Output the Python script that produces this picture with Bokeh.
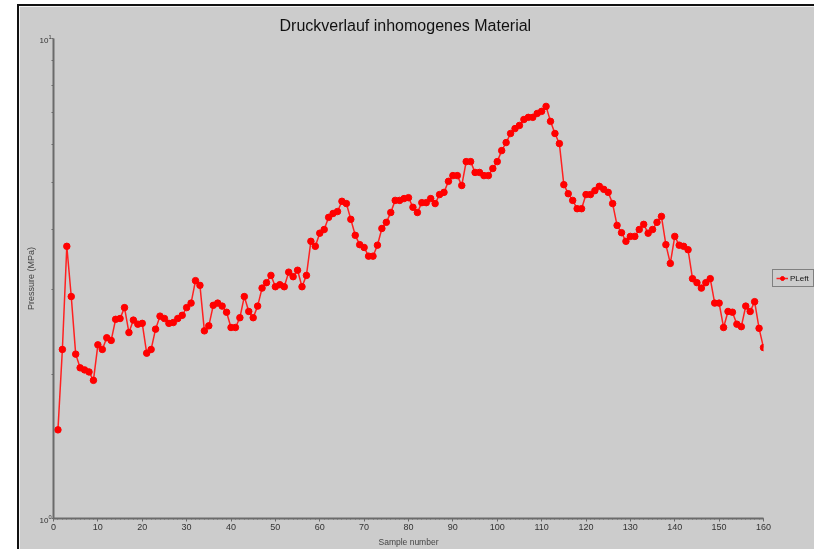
from bokeh.plotting import figure
from bokeh.models import (ColumnDataSource, Legend, LegendItem, SingleIntervalTicker,
                          FixedTicker, LogTickFormatter)
from bokeh.embed import file_html
from bokeh.resources import INLINE

# Pressure curve of an inhomogeneous material, one reading per sample
samples = list(range(1, 161))
pressure = [
    1.53, 2.25, 3.69, 2.90, 2.20, 2.06, 2.04, 2.02, 1.94, 2.30,
    2.25, 2.38, 2.35, 2.60, 2.61, 2.75, 2.44, 2.59, 2.54, 2.55,
    2.21, 2.25, 2.48, 2.64, 2.61, 2.55, 2.56, 2.61, 2.65, 2.75,
    2.81, 3.13, 3.06, 2.46, 2.52, 2.78, 2.81, 2.77, 2.69, 2.50,
    2.50, 2.62, 2.90, 2.70, 2.62, 2.77, 3.02, 3.10, 3.21, 3.04,
    3.07, 3.04, 3.26, 3.19, 3.29, 3.04, 3.21, 3.78, 3.69, 3.93,
    4.00, 4.24, 4.32, 4.36, 4.58, 4.53, 4.20, 3.89, 3.72, 3.67,
    3.52, 3.52, 3.71, 4.02, 4.14, 4.34, 4.60, 4.60, 4.64, 4.66,
    4.45, 4.34, 4.55, 4.55, 4.64, 4.53, 4.73, 4.78, 5.04, 5.18,
    5.18, 4.94, 5.54, 5.54, 5.26, 5.26, 5.18, 5.18, 5.36, 5.54,
    5.84, 6.07, 6.34, 6.49, 6.59, 6.78, 6.85, 6.85, 6.98, 7.05,
    7.22, 6.72, 6.34, 6.04, 4.96, 4.75, 4.60, 4.42, 4.42, 4.73,
    4.73, 4.82, 4.92, 4.85, 4.78, 4.53, 4.08, 3.94, 3.78, 3.87,
    3.87, 4.00, 4.10, 3.93, 4.00, 4.14, 4.26, 3.72, 3.40, 3.87,
    3.71, 3.69, 3.63, 3.16, 3.10, 3.02, 3.10, 3.16, 2.81, 2.81,
    2.50, 2.70, 2.69, 2.54, 2.51, 2.77, 2.70, 2.83, 2.49, 2.27,
]
series_name = "PLeft"
title_text = "Druckverlauf inhomogenes Material"
x_label = "Sample number"
y_label = "Pressure (MPa)"
y_decades = [1, 10]
y_minor = [2, 3, 4, 5, 6, 7, 8, 9]

BG = "#cccccc"
FONT = "Liberation Sans"

p = figure(frame_width=710, frame_height=480, y_axis_type="log",
           x_range=(0, 160), y_range=(1, 10),
           output_backend="svg", toolbar_location=None,
           background_fill_color=BG, border_fill_color=BG,
           outline_line_color=BG, outline_line_width=2,
           min_border_left=34, min_border_right=60,
           min_border_top=32, min_border_bottom=40)
# panel sits 19px in and 6px down, with a dark rule along its top and left
p.styles = {"position": "fixed", "top": "6px", "left": "19px",
            "box-shadow": "-2px -2px 0 0 #111111"}

p.title.text = title_text
p.title.align = "left"
p.title.offset = 226
p.title.text_font = FONT
p.title.text_font_size = "16px"
p.title.text_font_style = "normal"
p.title.text_color = "#111111"

p.xgrid.visible = False
p.ygrid.visible = False

xa = p.xaxis[0]
xa.ticker = SingleIntervalTicker(interval=10, num_minor_ticks=10)
xa.axis_label = x_label
xa.axis_label_text_font = FONT
xa.axis_label_text_font_size = "8.5px"
xa.axis_label_text_font_style = "normal"
xa.axis_label_standoff = 4
xa.major_label_text_font = FONT
xa.major_label_text_font_size = "9px"
xa.major_label_text_color = "#333333"
xa.major_label_standoff = 2
xa.axis_line_color = "#6a6a6a"
xa.axis_line_width = 2
xa.major_tick_line_color = "#6a6a6a"
xa.major_tick_in = 0
xa.major_tick_out = 3
xa.minor_tick_line_color = "#6a6a6a"
xa.minor_tick_in = 0
xa.minor_tick_out = 1

ya = p.yaxis[0]
ya.ticker = FixedTicker(ticks=y_decades, minor_ticks=y_minor)
ya.formatter = LogTickFormatter()
ya.axis_label = y_label
ya.axis_label_text_font = FONT
ya.axis_label_text_font_size = "9px"
ya.axis_label_text_font_style = "normal"
ya.axis_label_standoff = 0
ya.major_label_text_font = FONT
ya.major_label_text_font_size = "8px"
ya.major_label_text_color = "#333333"
ya.major_label_standoff = 0
ya.axis_line_color = "#6a6a6a"
ya.axis_line_width = 2
ya.major_tick_line_color = "#6a6a6a"
ya.major_tick_in = 0
ya.major_tick_out = 2
ya.minor_tick_line_color = "#6a6a6a"
ya.minor_tick_in = 0
ya.minor_tick_out = 2

src = ColumnDataSource(data=dict(x=samples, y=pressure))
ln = p.line("x", "y", source=src, line_color="#ff2020", line_width=1.5)
pts = p.scatter("x", "y", source=src, size=6.5, fill_color="#ff0000",
                line_color="#ff0000")

legend = Legend(items=[LegendItem(label=series_name, renderers=[ln, pts])],
                location="center_left", orientation="vertical",
                background_fill_color=BG, background_fill_alpha=1,
                border_line_color="#333333", border_line_width=1.5,
                label_text_font=FONT, label_text_font_size="8px",
                label_text_color="#111111",
                glyph_width=12, glyph_height=10, label_standoff=2,
                padding=3, spacing=0, margin=9, label_height=10)
p.add_layout(legend, "right")

open("out.html", "w").write(file_html(p, INLINE))
